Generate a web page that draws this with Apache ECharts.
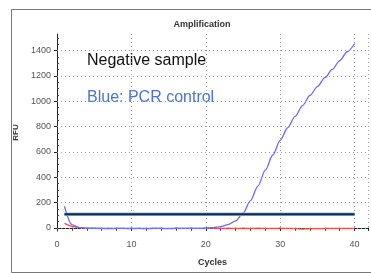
<!DOCTYPE html>
<html>
<head>
<meta charset="utf-8">
<script src="https://cdn.jsdelivr.net/npm/echarts@6/dist/echarts.min.js"></script>
<style>
  html, body { margin: 0; padding: 0; background: #fff; }
  #chart { width: 371px; height: 273px; }
</style>
</head>
<body>
<div id="chart"></div>
<script>
// cycles 1..40
const cycles = [1, 2, 3, 4, 5, 6, 7, 8, 9, 10, 11, 12, 13, 14, 15, 16, 17, 18, 19, 20,
  21, 22, 23, 24, 25, 26, 27, 28, 29, 30, 31, 32, 33, 34, 35, 36, 37, 38, 39, 40]

// blue = PCR control
const blueRfu = [170, 25, 2, -3, -5, -5, -6, -5, -5, -6, -5, -6, -5, -5, -6, -5, -5, -4, -4, -3,
  2, 10, 25, 55, 115, 215, 330, 455, 575, 690, 790, 880, 965, 1045, 1115, 1185, 1250, 1320, 1390, 1455]

// red = negative sample
const redRfu = [35, 12, 2, -2, -3, -4, -3, -4, -4, -3, -4, -4, -3, -4, -4, -3, -4, -3, -4, -3,
  -3, -4, -3, -4, -3, -4, -3, -5, -4, -3, -4, -6, -10, -8, -6, -5, -5, -4, -5, -5]

const threshold = 108
const yTicks = [0, 200, 400, 600, 800, 1000, 1200, 1400]
const yMinorTicks = [50, 100, 150, 250, 300, 350, 450, 500, 550, 650, 700, 750, 850, 900, 950,
  1050, 1100, 1150, 1250, 1300, 1350, 1450, 1500]

const chart = echarts.init(document.getElementById('chart'))

const blueData = cycles.map((c, i) => [c, blueRfu[i]])
const redData = cycles.map((c, i) => [c, redRfu[i]])
const thrData = [[cycles[0], threshold], [cycles[cycles.length - 1], threshold]]

const font = 'Liberation Sans, Arial, sans-serif'

chart.setOption({
  animation: false,
  title: {
    text: 'Amplification',
    left: 197, top: 15,
    textAlign: 'center',
    textStyle: { fontSize: 9, fontWeight: 'bold', color: '#333', fontFamily: font }
  },
  grid: { left: 57, right: 0, top: 34, bottom: 42 },
  xAxis: [{
    type: 'value', min: 0, max: 41.8, interval: 10,
    name: 'Cycles', nameLocation: 'middle', nameGap: 27,
    nameTextStyle: { fontSize: 9, fontWeight: 'bold', color: '#333', fontFamily: font },
    axisLine: { lineStyle: { color: '#222', width: 1 } },
    axisTick: { inside: false, length: 3, lineStyle: { color: '#222' } },
    minorTick: { show: true, splitNumber: 5, length: 3, lineStyle: { color: '#444' } },
    axisLabel: { fontSize: 9, color: '#555', margin: 9, fontFamily: font,
      formatter: v => (v % 10 === 0 && v <= 40 ? String(v) : '') },
    splitLine: { show: true, lineStyle: { color: '#999', type: [1, 3], width: 1 } }
  }, {
    type: 'value', min: 0, max: 41.8, interval: 10, position: 'top',
    axisLine: { show: true, lineStyle: { color: '#222', width: 1 } },
    axisTick: { inside: true, length: 3, lineStyle: { color: '#222' } },
    minorTick: { show: true, splitNumber: 5, length: 2, lineStyle: { color: '#444' } },
    axisLabel: { show: false },
    splitLine: { show: false }
  }],
  yAxis: [{
    type: 'value', min: -25, max: 1530,
    name: 'RFU', nameLocation: 'middle', nameGap: 36, nameRotate: 90,
    nameTextStyle: { fontSize: 8, fontWeight: 'bold', color: '#333', fontFamily: font },
    axisLine: { show: true, lineStyle: { color: '#222', width: 1 } },
    axisTick: { show: true, customValues: yTicks, length: 3, lineStyle: { color: '#222' } },
    axisLabel: { customValues: yTicks, fontSize: 9, color: '#555', margin: 6, fontFamily: font,
      formatter: v => String(v) },
    splitLine: { show: false }
  }, {
    type: 'value', min: -25, max: 1530, position: 'left',
    axisLine: { show: false },
    axisTick: { show: true, inside: true, customValues: yMinorTicks, length: 2, lineStyle: { color: '#444' } },
    axisLabel: { show: false },
    splitLine: { show: false }
  }],
  series: [{
    // horizontal dotted grid at y ticks
    type: 'line', data: [], xAxisIndex: 0, yAxisIndex: 0,
    markLine: {
      silent: true, symbol: 'none', label: { show: false },
      lineStyle: { color: '#999', type: [1, 3], width: 1 },
      data: yTicks.map(v => ({ yAxis: v }))
    }
  }, {
    name: 'negative', type: 'line', data: redData, showSymbol: false,
    smooth: 0.2, smoothMonotone: 'x',
    lineStyle: { color: '#f04848', width: 1.2 }, z: 3
  }, {
    name: 'control', type: 'line', data: blueData, showSymbol: false,
    smooth: 0.3, smoothMonotone: 'x',
    lineStyle: { color: '#6a6af2', width: 1.3 }, z: 4
  }, {
    name: 'thr-outline', type: 'line', data: thrData, showSymbol: false,
    lineStyle: { color: '#8cb2dc', width: 3.5 }, z: 5
  }, {
    name: 'threshold', type: 'line', data: thrData, showSymbol: false,
    lineStyle: { color: '#0c2a50', width: 2 }, z: 6
  }],
  graphic: [{
    type: 'rect', left: 9, top: 7, silent: true, z: -1,
    shape: { width: 370, height: 263 },
    style: { fill: 'none', stroke: '#777', lineWidth: 1 }
  }, {
    type: 'text', left: 87, top: 53,
    style: { text: 'Negative sample', fontSize: 16, fill: '#111', fontFamily: font }
  }, {
    type: 'text', left: 87, top: 90,
    style: { text: 'Blue: PCR control', fontSize: 16, fill: '#4a74d0', fontFamily: font }
  }]
})
</script>
</body>
</html>
